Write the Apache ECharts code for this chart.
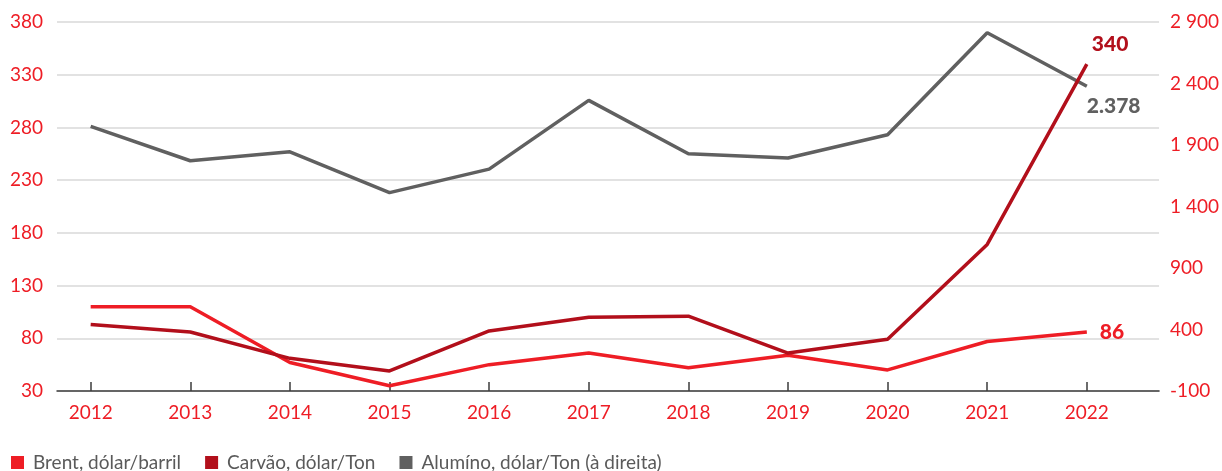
<!DOCTYPE html>
<html>
<head>
<meta charset="utf-8">
<script src="https://cdn.jsdelivr.net/npm/echarts@6/dist/echarts.min.js"></script>
<style>
  html, body { margin: 0; padding: 0; background: #fff; }
  #chart { width: 1222px; height: 471px; }
</style>
</head>
<body>
<div id="chart"></div>
<script>
// dados
var years = [2012, 2013, 2014, 2015, 2016, 2017, 2018, 2019, 2020, 2021, 2022]
var brent = [110, 110, 57, 35, 55, 66, 52, 64, 50, 77, 86]
var carvao = [93, 86, 61, 49, 87, 100, 101, 66, 79, 169, 340]
var aluminio = [2051, 1772, 1845, 1513, 1704, 2263, 1829, 1794, 1983, 2812, 2378]

var FONT = 'Lato'
var RED = '#ee1d25'
var DARK = '#b20f1b'
var GRAY = '#606060'

function pairs(vals) {
  return years.map(function (y, i) { return [y, vals[i]] })
}

function thousands(v, sep) {
  var s = String(Math.abs(v))
  var out = s.replace(/\B(?=(\d{3})+(?!\d))/g, sep)
  return (v < 0 ? '-' : '') + out
}

var chart = echarts.init(document.getElementById('chart'))

chart.setOption({
  animation: false,
  textStyle: { fontFamily: FONT },
  grid: { left: 57, right: 62, top: 22, bottom: 80 },
  legend: {
    left: 11,
    top: 453,
    padding: 0,
    icon: 'rect',
    itemWidth: 13,
    itemHeight: 13,
    itemGap: 24,
    data: ['Brent, dólar/barril', 'Carvão, dólar/Ton', 'Alumíno, dólar/Ton (à direita)'],
    textStyle: { color: '#5a5a5a', fontSize: 19, fontFamily: FONT, padding: [0, 0, 0, 4] }
  },
  xAxis: {
    type: 'value',
    min: 2011.662,
    max: 2022.725,
    splitLine: { show: false },
    axisLine: { onZero: false, lineStyle: { color: '#3c3c3c', width: 1.5 } },
    axisTick: {
      inside: true,
      length: 9,
      customValues: years,
      lineStyle: { color: '#3c3c3c', width: 1.5 }
    },
    axisLabel: {
      customValues: years,
      color: RED,
      fontSize: 19,
      margin: 12,
      fontFamily: FONT,
      formatter: function (v) { return String(v) }
    }
  },
  yAxis: [
    {
      type: 'value',
      min: 30,
      max: 380,
      interval: 50,
      axisLine: { show: false },
      axisTick: { show: false },
      axisLabel: { color: RED, fontSize: 19, margin: 14, fontFamily: FONT },
      splitLine: { lineStyle: { color: '#d9d9d9', width: 1.5 } }
    },
    {
      type: 'value',
      min: -100,
      max: 2900,
      interval: 500,
      position: 'right',
      axisLine: { show: false },
      axisTick: { show: false },
      splitLine: { show: false },
      axisLabel: {
        color: RED,
        fontSize: 19,
        margin: 11,
        fontFamily: FONT,
        formatter: function (v) { return thousands(v, ' ') }
      }
    }
  ],
  series: [
    {
      name: 'Brent, dólar/barril',
      type: 'line',
      yAxisIndex: 0,
      z: 3,
      symbol: 'none',
      color: RED,
      lineStyle: { width: 3.5, color: RED },
      data: pairs(brent),
      endLabel: {
        show: true,
        distance: 13,
        color: RED,
        fontSize: 21,
        fontWeight: 900,
        fontFamily: FONT,
        formatter: function (p) { return String(p.value[1]) }
      }
    },
    {
      name: 'Carvão, dólar/Ton',
      type: 'line',
      yAxisIndex: 0,
      z: 4,
      symbol: 'none',
      color: DARK,
      lineStyle: { width: 3.5, color: DARK },
      data: pairs(carvao),
      endLabel: {
        show: true,
        distance: 5,
        offset: [0, -20],
        color: DARK,
        fontSize: 21,
        fontWeight: 900,
        fontFamily: FONT,
        formatter: function (p) { return String(p.value[1]) }
      }
    },
    {
      name: 'Alumíno, dólar/Ton (à direita)',
      type: 'line',
      yAxisIndex: 1,
      z: 2,
      symbol: 'none',
      color: GRAY,
      lineStyle: { width: 3.5, color: GRAY },
      data: pairs(aluminio),
      endLabel: {
        show: true,
        distance: 0,
        offset: [0, 20],
        color: GRAY,
        fontSize: 21,
        fontWeight: 900,
        fontFamily: FONT,
        formatter: function (p) { return thousands(p.value[1], '.') }
      }
    }
  ]
})
</script>
</body>
</html>
